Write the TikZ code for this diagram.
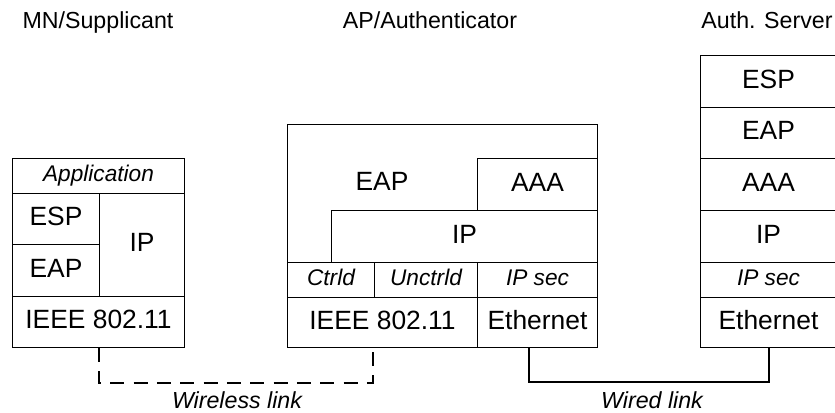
\documentclass[tikz,border=0pt]{standalone}
\usepackage{fontspec}
\setmainfont{Liberation Sans}
\begin{document}
\begin{tikzpicture}[x=0.75pt,y=-0.75pt,
  cell/.style 2 args={draw, line width=0.75pt, inner sep=0pt, anchor=north west,
    minimum width=#1*0.75pt, minimum height=#2*0.75pt},
  big/.style={font=\fontsize{19.8}{23}\selectfont, text height=14.2pt, text depth=4pt},
  small/.style={font=\fontsize{17}{20}\selectfont\itshape, text height=12.2pt, text depth=3.4pt},
  title/.style={font=\fontsize{17.4}{20}\selectfont, anchor=base},
  linklabel/.style={font=\fontsize{17.4}{20}\selectfont\itshape, anchor=base},
  wire/.style={line width=1.5pt},
  radio/.style={line width=1.5pt, dash pattern=on 10.5pt off 7pt}]
\useasboundingbox (0,0) rectangle (835,412);

% column titles
\node[title] (tmn)  at (98,28)  {MN/Supplicant};
\node[title] (tap)  at (430,28) {AP/Authenticator};
\node[title] (tas)  at (767,28) {Auth. Server};

% mobile node stack
\node[cell={172}{35}, small] (lapp) at (12,158)  {Application};
\node[cell={87}{51},  big]   (lesp) at (12,193)  {ESP};
\node[cell={87}{52},  big]   (leap) at (12,244)  {EAP};
\node[cell={85}{103}, big]   (lip)  at (99,193)  {IP};
\node[cell={172}{51}, big]   (lmac) at (12,296)  {IEEE 802.11};

% access point stack
\node[cell={310}{138}]       (apframe) at (287,124) {};
\node[big]                   (apeap)   at (382,184) {EAP};
\node[cell={120}{52}, big]   (apaaa)   at (477,158) {AAA};
\node[cell={266}{52}, big]   (apip)    at (331,210) {IP};
\node[cell={87}{35},  small] (apctl)   at (287,262) {Ctrld};
\node[cell={103}{35}, small] (apunc)   at (374,262) {Unctrld};
\node[cell={120}{35}, small] (apsec)   at (477,262) {IP sec};
\node[cell={190}{50}, big]   (apmac)   at (287,297) {IEEE 802.11};
\node[cell={120}{50}, big]   (apeth)   at (477,297) {Ethernet};

% authentication server stack
\node[cell={136}{52}, big]   (sesp) at (700,55)  {ESP};
\node[cell={136}{51}, big]   (seap) at (700,107) {EAP};
\node[cell={136}{52}, big]   (saaa) at (700,158) {AAA};
\node[cell={136}{52}, big]   (sip)  at (700,210) {IP};
\node[cell={136}{35}, small] (ssec) at (700,262) {IP sec};
\node[cell={136}{50}, big]   (seth) at (700,297) {Ethernet};

% links
\coordinate (apradio) at (373,347);
\coordinate (apwire)  at (529,347);
\draw[radio] (lmac.south) -- ++(0,35) -| (apradio);
\draw[wire]  (apwire) -- ++(0,35) -| (seth.south);

\node[linklabel] (wl) at (237,408) {Wireless link};
\node[linklabel] (dl) at (652,408) {Wired link};
\end{tikzpicture}
\end{document}
